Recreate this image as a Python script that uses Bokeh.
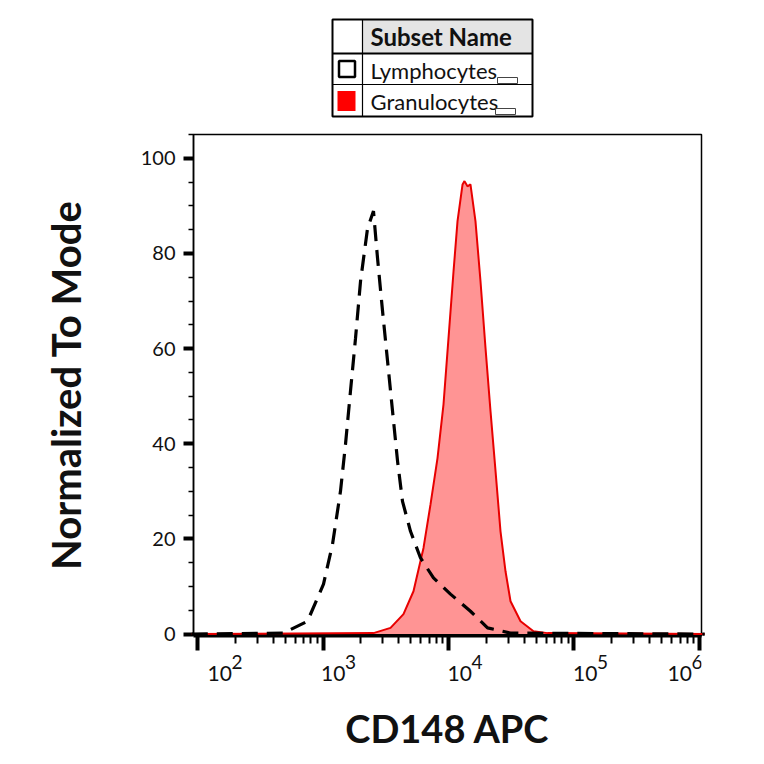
from bokeh.core.properties import value
from bokeh.embed import file_html
from bokeh.layouts import column
from bokeh.models import (ColumnDataSource, CustomJSTickFormatter, FixedTicker,
                          Range1d, SingleIntervalTicker)
from bokeh.plotting import figure
from bokeh.resources import INLINE

# CD148 APC intensity vs % of mode
lymph_x = [90, 484, 752, 1009, 1191, 1378, 1511, 1656, 1816, 1991, 2265, 2525,
           2719, 2981, 3268, 3583, 3928, 4300, 4979, 5984, 7590, 10370, 14970,
           20460, 31200, 1100000]
lymph_y = [0, 0.2, 2.7, 10.5, 18.9, 30.0, 39.9, 51.1, 62.2, 74.2, 85.3, 88.9,
           79.0, 67.9, 57.4, 46.8, 36.3, 27.9, 21.6, 16.0, 11.8, 8.4, 4.8,
           1.3, 0.2, 0]

gran_x = [90, 2525, 3451, 4378, 5260, 6322, 7193, 8174, 9124, 10000, 10970,
          11800, 12940, 13410, 14160, 14960, 16400, 17980, 19720, 21620,
          23710, 25960, 28460, 31200, 37500, 47550, 61500, 1100000]
gran_y = [0, 0.2, 1.3, 4.2, 9.0, 18.1, 27.3, 37.0, 48.3, 62.2, 76.3, 86.8,
          94.5, 95.2, 94.1, 94.5, 86.8, 74.2, 60.1, 46.8, 34.2, 21.6, 13.2,
          6.9, 2.7, 0.6, 0.2, 0]

subsets = ["Lymphocytes", "Granulocytes"]
decades = [2, 3, 4, 5, 6]

FONT = "Lato"
INK = "#111111"
W = 764
BL, BR = 193, 63          # left / right borders shared by the stacked figures

# ---- legend table (FlowJo style), data units == page pixels ----
LEG_H = 126
leg = figure(width=W, height=LEG_H, x_range=Range1d(BL, W - BR), y_range=Range1d(LEG_H, 0),
             toolbar_location=None, output_backend="svg", min_border_left=BL,
             min_border_right=BR, min_border_top=0, min_border_bottom=0)
leg.axis.visible = False
leg.grid.visible = False
leg.outline_line_color = None

tl, tr, tt, tb, split = 332, 532, 19, 116, 362
row_h = [tt, 53, 84, tb]
leg.quad(left=split, right=tr, top=tt, bottom=row_h[1], fill_color="#e4e4e4", line_color=None)
leg.segment(x0=[split], y0=[tt], x1=[split], y1=[tb], line_color="black", line_width=1.2)
leg.segment(x0=[tl, tl], y0=row_h[1:3], x1=[tr, tr], y1=row_h[1:3],
            line_color="black", line_width=[2, 1.2])
leg.quad(left=tl, right=tr, top=tt, bottom=tb, fill_color=None, line_color="black", line_width=2)

rows_y = [(row_h[i + 1] + row_h[i + 2]) / 2 for i in range(len(subsets))]
leg.rect(x=[346.5], y=[rows_y[0]], width=16, height=16, fill_color="white",
         line_color="black", line_width=2.5)
leg.rect(x=[346], y=[rows_y[1] + 0.5], width=18, height=20, fill_color="#ff0000",
         line_color=None)
leg.text(x=[split + 8], y=[(tt + row_h[1]) / 2], text=["Subset Name"],
         text_font=value(FONT), text_font_style="bold", text_font_size="24px",
         text_baseline="middle", text_color=INK)
leg.text(x=[split + 8] * 2, y=[r + 1 for r in rows_y], text=subsets, text_font=value(FONT),
         text_font_size="22px", text_baseline="middle", text_color=INK)
leg.quad(left=[497, 495], right=[517, 515], top=[row_h[2] - 7, row_h[3] - 8],
         bottom=[row_h[2] - 1, row_h[3] - 2], fill_color=None, line_color="#444444",
         line_width=1)

# ---- histogram overlay ----
MAIN_H = 525
p = figure(width=W, height=MAIN_H, x_axis_type="log",
           x_range=Range1d(10 ** 1.968, 10 ** 6.016), y_range=Range1d(-0.3, 105),
           toolbar_location=None, output_backend="svg",
           min_border_left=BL, min_border_right=BR, min_border_top=8,
           min_border_bottom=16)
p.grid.visible = False
p.outline_line_color = "black"
p.outline_line_width = 1.5

gran = ColumnDataSource(data=dict(x=gran_x, y=gran_y))
lymph = ColumnDataSource(data=dict(x=lymph_x, y=lymph_y))
p.varea(x="x", y1=0, y2="y", source=gran, fill_color="#ff9494", level="overlay")
p.line("x", "y", source=gran, line_color="#e80000", line_width=2, level="overlay")
p.line("x", "y", source=lymph, line_color="black", line_width=3.2,
       line_dash="16 9", level="overlay")

# y axis
p.yaxis.ticker = SingleIntervalTicker(interval=20, num_minor_ticks=4)
p.yaxis.axis_line_width = 1.5
p.yaxis.major_tick_line_width = 4
p.yaxis.major_tick_out = 10
p.yaxis.major_tick_in = 0
p.yaxis.minor_tick_line_width = 1.5
p.yaxis.minor_tick_out = 5
p.yaxis.minor_tick_in = 0
p.yaxis.major_label_standoff = 8
p.yaxis.major_label_text_font = FONT
p.yaxis.major_label_text_font_size = "20px"
p.yaxis.major_label_text_color = INK
p.yaxis.axis_label = "Normalized To Mode"
p.yaxis.axis_label_text_font = FONT
p.yaxis.axis_label_text_font_style = "bold"
p.yaxis.axis_label_text_font_size = "40px"
p.yaxis.axis_label_text_color = INK
p.yaxis.axis_label_standoff = 48

# x axis (log); decade labels are drawn in the strip below
p.xaxis.ticker = FixedTicker(ticks=[10 ** d for d in decades],
                             minor_ticks=[k * 10 ** d for d in range(1, 6) for k in range(2, 10)])
p.xaxis.formatter = CustomJSTickFormatter(code="return ''")
p.xaxis.major_label_text_font_size = "1px"
p.xaxis.axis_label_standoff = 0
p.xaxis.axis_line_width = 4
p.xaxis.major_tick_line_width = 4
p.xaxis.major_tick_out = 15
p.xaxis.major_tick_in = 0
p.xaxis.minor_tick_line_width = 2
p.xaxis.minor_tick_out = 8
p.xaxis.minor_tick_in = 0
p.xaxis.major_label_standoff = 0

# ---- strip under the axis: decade labels and axis title ----
BOT_H = W - LEG_H - MAIN_H
bot = figure(width=W, height=BOT_H, x_axis_type="log", x_range=p.x_range,
             y_range=Range1d(BOT_H, 0), toolbar_location=None, output_backend="svg",
             min_border_left=BL, min_border_right=BR, min_border_top=0, min_border_bottom=0)
bot.axis.visible = False
bot.grid.visible = False
bot.outline_line_color = None

base_off = [10, -2, -1, -1, -32]   # FlowJo puts "10" beside the tick, clamped at the ends
ticks = [10 ** d for d in decades]
bot.text(x=ticks, y=[22] * len(ticks), text=["10"] * len(ticks), x_offset=base_off,
         text_font=value(FONT), text_font_size="21px", text_color=INK,
         text_align="left", text_baseline="middle")
bot.text(x=ticks, y=[10.5] * len(ticks), text=[str(d) for d in decades],
         x_offset=[o + 24 for o in base_off],
         text_font=value(FONT), text_font_size="19px", text_color=INK,
         text_align="left", text_baseline="middle")
bot.text(x=[10 ** 3.992], y=[76], text=["CD148 APC"], text_font=value(FONT),
         text_font_style="bold", text_font_size="38px", text_color=INK,
         text_align="center", text_baseline="middle")

layout = column(leg, p, bot)
open("out.html", "w").write(file_html(layout, INLINE))
